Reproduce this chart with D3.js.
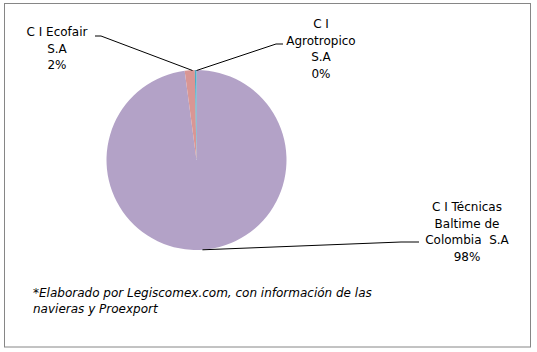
<!DOCTYPE html>
<html lang="es">
<head>
<meta charset="UTF-8">
<title>Participación exportadores</title>
<script src="https://d3js.org/d3.v7.min.js"></script>
<style>
  body { margin: 0; background: #fff; }
  svg text { font-family: 'DejaVu Sans', Verdana, sans-serif; font-size: 12px; fill: #000; white-space: pre; }
</style>
</head>
<body>
<div id="chart"></div>
<script>
// data, clockwise from 12 o'clock
const names = ["C I Técnicas Baltime de Colombia  S.A", "C I Ecofair S.A", "C I Agrotropico S.A"];
const shares = [97.9, 1.8, 0.3];
const pctLabels = ["98%", "2%", "0%"];
const labelLines = [
  ["C I Técnicas", "Baltime de", "Colombia  S.A", "98%"],
  ["C I Ecofair", "S.A", "2%"],
  ["C I", "Agrotropico", "S.A", "0%"]
];
const colors = ["#B3A2C7", "#D99694", "#4BACC6"];

const width = 537, height = 352;
const cx = 196.5, cy = 160, r = 90;

const svg = d3.select("#chart").append("svg")
  .attr("width", width).attr("height", height);

svg.append("rect")
  .attr("x", 4.5).attr("y", 3.5).attr("width", 526).attr("height", 343.5)
  .attr("fill", "#fff").attr("stroke", "#868686").attr("stroke-width", 1);

const pie = d3.pie().sort(null).value(d => d)(shares);
const arc = d3.arc().innerRadius(0).outerRadius(r);

const g = svg.append("g").attr("transform", `translate(${cx},${cy})`);
g.selectAll("path").data(pie).join("path")
  .attr("d", arc)
  .attr("fill", (d, i) => colors[i]);

// label blocks: centre x, first baseline, and leader-line end
const labelPos = [
  { x: 467, y: 211, lx: 419, ly: 242 },
  { x: 57, y: 36, lx: 95, ly: 36 },
  { x: 321, y: 28, lx: 283, ly: 44 }
];

pie.forEach((d, i) => {
  const p = labelPos[i];
  const a = (d.startAngle + d.endAngle) / 2;
  let sx = cx + Math.sin(a) * r, sy = cy - Math.cos(a) * r;
  if (i === 1) { sx = cx - 4; sy = cy - r + 0.5; }
  if (i === 2) { sx = cx; sy = cy - r + 0.5; }
  const kneeX = i === 1 ? p.lx + 6 : (i === 2 ? p.lx - 7 : p.lx - 18);
  svg.append("polyline")
    .attr("points", [[sx, sy], [kneeX, p.ly], [p.lx, p.ly]].map(q => q.join(",")).join(" "))
    .attr("fill", "none").attr("stroke", "#000").attr("stroke-width", 1);

  const t = svg.append("text").attr("text-anchor", "middle");
  labelLines[i].forEach((line, k) => {
    t.append("tspan").attr("x", p.x).attr("y", p.y + k * 16.5).text(line);
  });
});

const note = svg.append("text").attr("font-style", "italic");
["*Elaborado por Legiscomex.com, con información de las", "navieras y Proexport"].forEach((line, k) => {
  note.append("tspan").attr("x", 33).attr("y", 297 + k * 16).text(line);
});
</script>
</body>
</html>
